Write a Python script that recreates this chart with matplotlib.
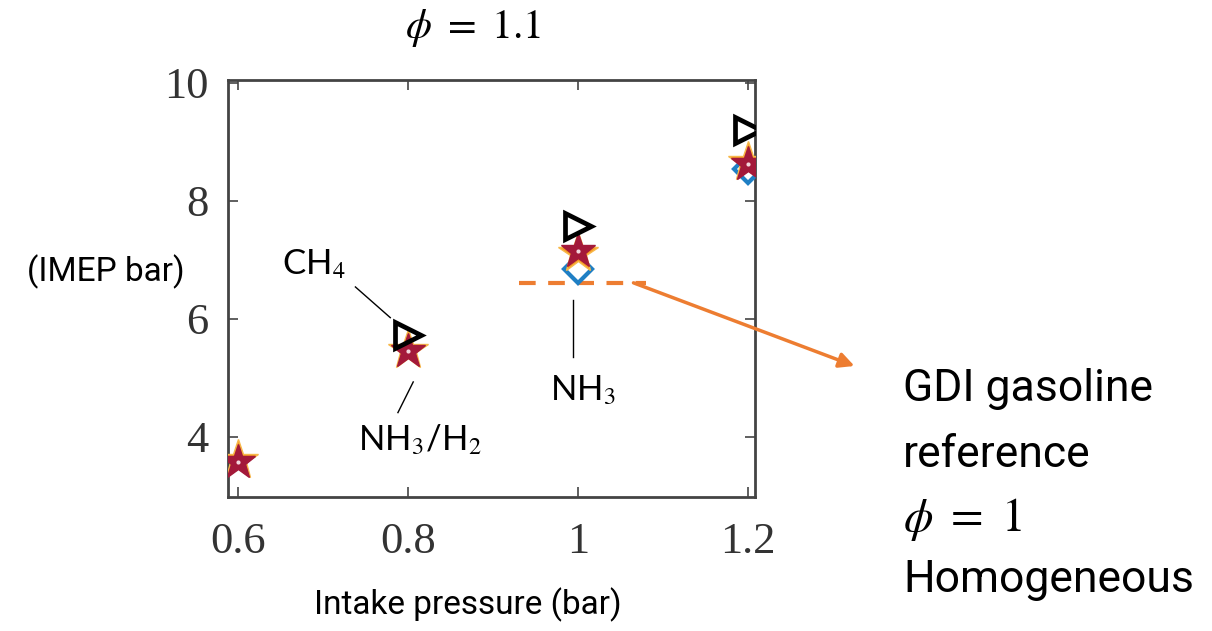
import numpy as np
import matplotlib
matplotlib.use("Agg")
from matplotlib import pyplot as plt

# intake pressure (bar) and IMEP (bar)
pressure = [0.6, 0.8, 1.0, 1.2]
imep_ch4 = [np.nan, 5.72, 7.58, 9.20]
imep_nh3 = [np.nan, np.nan, 6.85, 8.54]
imep_mix_orange = [3.60, 5.47, 7.12, 8.65]
imep_nh3_h2 = [3.58, 5.45, 7.15, 8.62]
gdi_ref = 6.61
gdi_span = [0.93, 1.08]

x_ticks = [0.6, 0.8, 1.0, 1.2]
x_labels = ["0.6", "0.8", "1", "1.2"]
y_ticks = [4, 6, 8, 10]

plt.rcParams["mathtext.fontset"] = "stix"

fig = plt.figure(figsize=(12.12, 6.31), dpi=100)
ax = fig.add_axes([0.188, 0.2124, 0.435, 0.661])

orange = "#ED7D31"

ax.plot(pressure, imep_nh3, linestyle="none", marker="D", ms=14,
        mfc="none", mec="#1F7FC4", mew=3, zorder=3)
ax.plot(pressure, imep_mix_orange, linestyle="none", marker="*", ms=30,
        mfc="#F59A23", mec="#F7B84A", mew=1, zorder=4)
ax.plot(pressure, imep_nh3_h2, linestyle="none", marker="*", ms=26,
        mfc="#A3193A", mec="#A3193A", mew=1, zorder=5)
ax.plot(pressure, imep_nh3_h2, linestyle="none", marker="o", ms=3,
        mfc="#F2D7DD", mec="none", zorder=6)
ax.plot(pressure, imep_ch4, linestyle="none", marker=">", ms=19,
        mfc="none", mec="black", mew=3.4, zorder=7)

# gasoline reference level
ax.hlines(gdi_ref, gdi_span[0], gdi_span[1], colors=orange, lw=3,
          linestyles=(0, (4, 3)), zorder=2)
ax.annotate("", xy=(0.705, 0.42), xycoords="figure fraction",
            xytext=(1.065, gdi_ref), textcoords="data",
            arrowprops=dict(arrowstyle="-|>,head_length=0.9,head_width=0.45",
                            color=orange, lw=2.5, shrinkA=0, shrinkB=0),
            annotation_clip=False)

# labels with leader lines
lab_font = dict(family=["Lato", "DejaVu Sans"], fontsize=25, color="black")
ax.text(0.689, 6.92, "CH$_4$", ha="center", va="center", **lab_font)
ax.plot([0.738, 0.779], [6.54, 6.02], color="black", lw=1)
ax.text(0.814, 3.95, "NH$_3$/H$_2$", ha="center", va="center", **lab_font)
ax.plot([0.788, 0.806], [4.41, 4.93], color="black", lw=1)
ax.text(1.006, 4.80, "NH$_3$", ha="center", va="center", **lab_font)
ax.plot([0.994, 0.994], [6.32, 5.36], color="black", lw=1)

ax.set_xlim(0.588, 1.208)
ax.set_ylim(2.98, 10.05)
ax.set_xticks(x_ticks)
ax.set_xticklabels(x_labels)
ax.set_yticks(y_ticks)
for lab in ax.get_xticklabels() + ax.get_yticklabels():
    lab.set_fontfamily(["Liberation Serif", "DejaVu Serif"])
    lab.set_fontsize(32)
    lab.set_color("#333333")
ax.tick_params(direction="in", length=7, width=1.2, top=True, right=True,
               color="#444444")
ax.tick_params(axis="x", pad=18)
ax.tick_params(axis="y", pad=14)
for s in ax.spines.values():
    s.set_linewidth(2)
    s.set_color("#444444")

narrow = ["Roboto", "DejaVu Sans"]
fig.text(0.39, 0.956, r"$\phi\ =\ 1.1$", ha="center", va="center",
         fontsize=30)
fig.text(0.087, 0.569, "(IMEP bar)", ha="center", va="center",
         family=narrow, fontsize=24)
fig.text(0.386, 0.041, "Intake pressure (bar)", ha="center", va="center",
         family=narrow, fontsize=24)

fig.text(0.745, 0.383, "GDI gasoline", ha="left", va="center",
         family=narrow, fontsize=32)
fig.text(0.745, 0.279, "reference", ha="left", va="center",
         family=narrow, fontsize=32)
fig.text(0.745, 0.176, r"$\phi\ =\ 1$", ha="left", va="center", fontsize=34)
fig.text(0.745, 0.081, "Homogeneous", ha="left", va="center",
         family=narrow, fontsize=32)

fig.savefig("out.png", dpi=100)
